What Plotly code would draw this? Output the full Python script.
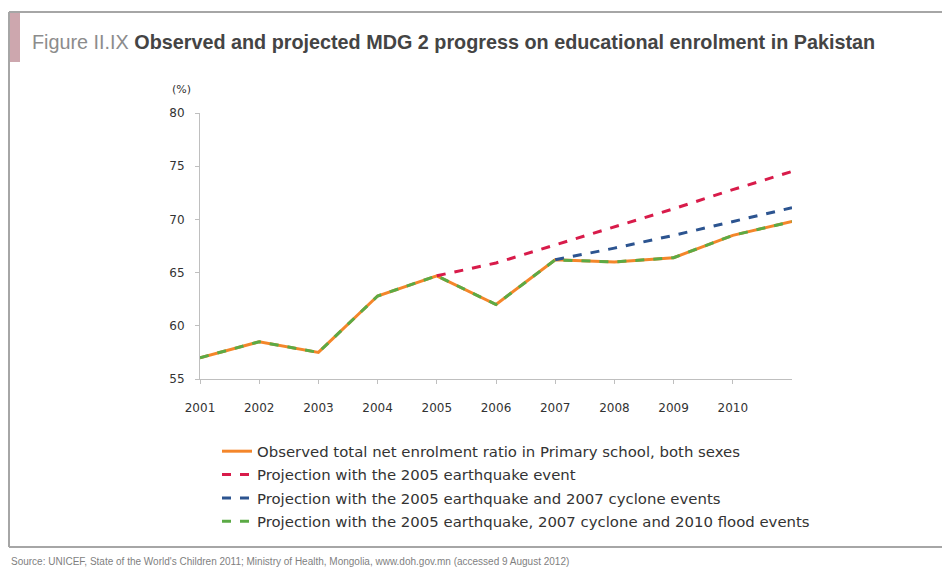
import plotly.graph_objects as go

# ---- data -------------------------------------------------------------
years = [2001, 2002, 2003, 2004, 2005, 2006, 2007, 2008, 2009, 2010, 2011]
observed = [57.0, 58.5, 57.5, 62.8, 64.7, 62.0, 66.2, 66.0, 66.4, 68.5, 69.8]

quake_years = [2005, 2006, 2007, 2008, 2009, 2010, 2011]
quake_proj = [64.7, 65.9, 67.6, 69.3, 71.0, 72.8, 74.5]

cyclone_years = [2007, 2008, 2009, 2010, 2011]
cyclone_proj = [66.2, 67.3, 68.5, 69.8, 71.1]

flood_years = years
flood_proj = observed

tick_years = [2001, 2002, 2003, 2004, 2005, 2006, 2007, 2008, 2009, 2010]
y_ticks = [55, 60, 65, 70, 75, 80]

names = [
    "Observed total net enrolment ratio in Primary school, both sexes",
    "Projection with the 2005 earthquake event",
    "Projection with the 2005 earthquake and 2007 cyclone events",
    "Projection with the 2005 earthquake, 2007 cyclone and 2010 flood events",
]

# ---- layout geometry ----------------------------------------------------
W, H = 942, 567
ML, MR, MT, MB = 200, 150, 113, 188
PW, PH = W - ML - MR, H - MT - MB


def px(x):
    return (x - ML) / PW


def py(y):
    return (H - MB - y) / PH


ORANGE = "#F4862A"
RED = "#D81B4A"
BLUE = "#2C5490"
GREEN = "#5BAA45"
AXIS = "#BFBFBF"
TXT = "#333333"

fig = go.Figure()

fig.add_trace(go.Scatter(
    x=years, y=observed, mode="lines", name=names[0], legendrank=1,
    line=dict(color=ORANGE, width=3), legendgroup="a"))
fig.add_trace(go.Scatter(
    x=quake_years, y=quake_proj, mode="lines", name=names[1], legendrank=2,
    line=dict(color=RED, width=3, dash="dash"), legendgroup="b"))
fig.add_trace(go.Scatter(
    x=cyclone_years, y=cyclone_proj, mode="lines", name=names[2], legendrank=3,
    line=dict(color=BLUE, width=3, dash="dash"), legendgroup="c"))
fig.add_trace(go.Scatter(
    x=flood_years, y=flood_proj, mode="lines", name=names[3], legendrank=4,
    line=dict(color=GREEN, width=3, dash="dash"), legendgroup="d"))

shapes = [
    # outer frame: top, left, bottom rules
    dict(type="line", xref="paper", yref="paper", x0=px(9), x1=px(W), y0=py(12), y1=py(12),
         line=dict(color="#A6A6A6", width=2)),
    dict(type="line", xref="paper", yref="paper", x0=px(9), x1=px(9), y0=py(12), y1=py(547),
         line=dict(color="#A6A6A6", width=2)),
    dict(type="line", xref="paper", yref="paper", x0=px(9), x1=px(W), y0=py(547), y1=py(547),
         line=dict(color="#A6A6A6", width=2)),
    # accent tab beside the title
    dict(type="rect", xref="paper", yref="paper", x0=px(10), x1=px(20), y0=py(13), y1=py(62),
         fillcolor="#CDA7AE", line=dict(width=0)),
]

annotations = [
    dict(xref="paper", yref="paper", x=px(30), y=py(42), xanchor="left", yanchor="middle",
         showarrow=False, align="left",
         text="<span style='color:#8C8C8C;font-family:\"Liberation Sans Narrow\", \"Liberation Sans\";'>Figure II.IX</span> "
              "<b>Observed and projected MDG 2 progress on educational enrolment in Pakistan</b>",
         font=dict(family="Liberation Sans, Arial", size=19.8, color="#444444")),
    dict(xref="paper", yref="paper", x=px(181), y=py(90), xanchor="center", yanchor="middle",
         showarrow=False, text="(%)", font=dict(family="DejaVu Sans", size=11, color=TXT)),
    dict(xref="paper", yref="paper", x=px(9), y=py(561), xanchor="left", yanchor="middle",
         showarrow=False,
         text="Source: UNICEF, State of the World's Children 2011; Ministry of Health, Mongolia, "
              "www.doh.gov.mn (accessed 9 August 2012)",
         font=dict(family="Liberation Sans, Arial", size=10, color="#7F7F7F")),
]

fig.update_layout(
    width=W, height=H,
    margin=dict(l=ML, r=MR, t=MT, b=MB, pad=0),
    paper_bgcolor="white", plot_bgcolor="white",
    font=dict(family="DejaVu Sans", size=12, color=TXT),
    showlegend=True,
    legend=dict(x=px(217), y=py(435), xanchor="left", yanchor="top",
                font=dict(family="DejaVu Sans", size=14.9, color=TXT),
                tracegroupgap=1, traceorder="grouped", bgcolor="rgba(0,0,0,0)"),
    shapes=shapes, annotations=annotations,
)

fig.update_xaxes(range=[2001, 2011], tickvals=tick_years, ticktext=[str(t) for t in tick_years],
                 showgrid=False, zeroline=False, showline=True, linecolor=AXIS, linewidth=1,
                 ticks="outside", ticklen=4, tickcolor=AXIS, ticklabelstandoff=14,
                 tickfont=dict(family="DejaVu Sans", size=12, color=TXT))
fig.update_yaxes(range=[55, 80], tickvals=y_ticks,
                 showgrid=False, zeroline=False, showline=True, linecolor=AXIS, linewidth=1,
                 ticks="outside", ticklen=4, tickcolor=AXIS, ticklabelstandoff=8,
                 tickfont=dict(family="DejaVu Sans", size=12, color=TXT))

fig.write_html("out.html")
